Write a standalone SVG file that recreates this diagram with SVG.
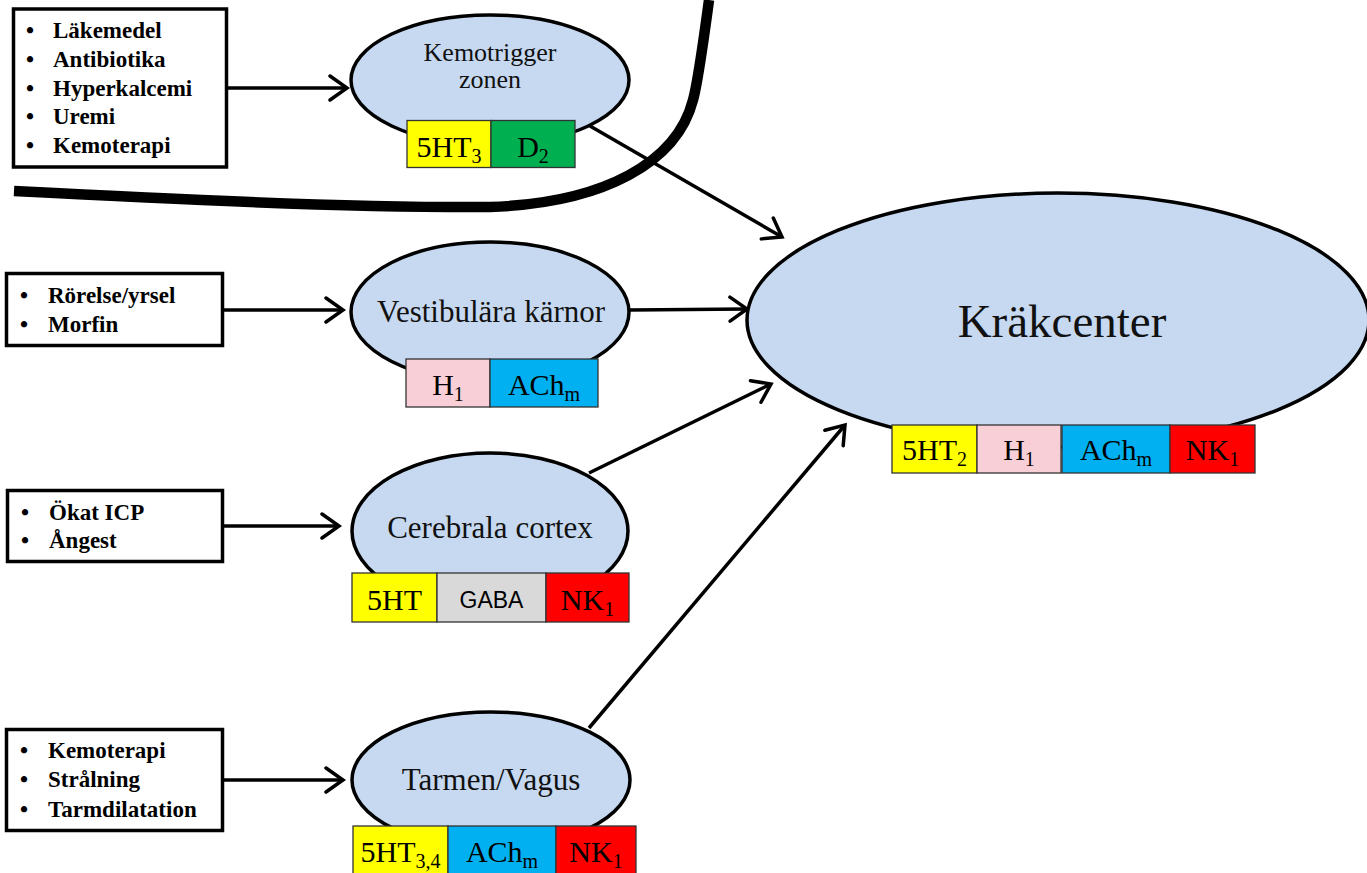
<svg xmlns="http://www.w3.org/2000/svg" width="1367" height="873" viewBox="0 0 1367 873">
  <style>
    .src { fill: #fff; stroke: #000; stroke-width: 3.5; }
    .src text { font-family: "Liberation Serif", "Times New Roman", serif; font-weight: bold; font-size: 23px; fill: #000; stroke: none; }
    .site { fill: #c6d9f1; stroke: #000; stroke-width: 3.5; }
    .lbl { font-family: "Liberation Serif", "Times New Roman", serif; font-size: 31px; fill: #111; text-anchor: middle; }
    .rc { stroke: #333; stroke-width: 1.3; }
    .rt { font-family: "Liberation Serif", "Times New Roman", serif; font-size: 30px; fill: #000; text-anchor: middle; }
    .sans { font-family: "Liberation Sans", Arial, sans-serif; font-size: 23px; }
    .y { fill: #ffff00; } .g { fill: #00b050; } .p { fill: #f8cfd6; } .c { fill: #00b0f0; } .r { fill: #ff0000; } .gr { fill: #d9d9d9; }
    .conn { fill: none; stroke: #000; stroke-width: 3.5; marker-end: url(#head); }
  </style>
  <defs>
    <marker id="head" viewBox="0 0 24 28" refX="20" refY="14" markerWidth="24" markerHeight="28" markerUnits="userSpaceOnUse" orient="auto">
      <path d="M3,2 L20,14 L3,26" fill="none" stroke="#000" stroke-width="3.5" stroke-linecap="round" stroke-linejoin="miter"/>
    </marker>
  </defs>

  <rect width="1367" height="873" fill="#fff"/>

  <!-- barrier line -->
  <g id="barrier">
    <path d="M14,191 C150,198 350,208 490,207 C605,203 677,162 693,100 C698,82 705,30 709,0" fill="none" stroke="#000" stroke-width="10.5"/>
  </g>

  <!-- connectors -->
  <g id="connectors">
    <path class="conn" d="M228,88 L347,88"/>
    <path class="conn" d="M224,310 L343,310"/>
    <path class="conn" d="M224,526 L339,526"/>
    <path class="conn" d="M224,780 L343,780"/>
    <path class="conn" d="M590,126 L782,237"/>
    <path class="conn" d="M630,310 L747,309"/>
    <path class="conn" d="M589,473 L771,384"/>
    <path class="conn" d="M589,728 L845,425"/>
  </g>

  <!-- cause boxes -->
  <g id="causes-ctz" class="src">
    <rect x="13.5" y="9" width="213" height="158"/>
    <text x="30" y="38" text-anchor="middle">•</text><text x="53" y="38">Läkemedel</text>
    <text x="30" y="67" text-anchor="middle">•</text><text x="53" y="67">Antibiotika</text>
    <text x="30" y="96" text-anchor="middle">•</text><text x="53" y="96">Hyperkalcemi</text>
    <text x="30" y="124" text-anchor="middle">•</text><text x="53" y="124">Uremi</text>
    <text x="30" y="153" text-anchor="middle">•</text><text x="53" y="153">Kemoterapi</text>
  </g>
  <g id="causes-vestibular" class="src">
    <rect x="6.5" y="273.5" width="216" height="72"/>
    <text x="24" y="303" text-anchor="middle">•</text><text x="48" y="303">Rörelse/yrsel</text>
    <text x="24" y="332" text-anchor="middle">•</text><text x="48" y="332">Morfin</text>
  </g>
  <g id="causes-cortex" class="src">
    <rect x="7.5" y="490.5" width="215" height="71"/>
    <text x="25" y="520" text-anchor="middle">•</text><text x="49" y="520">Ökat ICP</text>
    <text x="25" y="548" text-anchor="middle">•</text><text x="49" y="548">Ångest</text>
  </g>
  <g id="causes-gut" class="src">
    <rect x="6.5" y="729.5" width="216" height="101"/>
    <text x="24" y="758" text-anchor="middle">•</text><text x="48" y="758">Kemoterapi</text>
    <text x="24" y="787" text-anchor="middle">•</text><text x="48" y="787">Strålning</text>
    <text x="24" y="817" text-anchor="middle">•</text><text x="48" y="817">Tarmdilatation</text>
  </g>

  <!-- chemoreceptor trigger zone -->
  <g id="ctz">
    <ellipse class="site" cx="490" cy="80" rx="139" ry="65"/>
    <text class="lbl" x="490" y="61" style="font-size:26px">Kemotrigger</text>
    <text class="lbl" x="490" y="88" style="font-size:26px">zonen</text>
    <rect class="rc y" x="407" y="120.5" width="84" height="47"/>
    <rect class="rc g" x="491" y="120.5" width="84" height="47"/>
    <text class="rt" x="449" y="157">5HT<tspan font-size="20" dy="6">3</tspan></text>
    <text class="rt" x="533" y="157">D<tspan font-size="20" dy="6">2</tspan></text>
  </g>

  <!-- vestibular nuclei -->
  <g id="vestibular">
    <ellipse class="site" cx="490" cy="312" rx="139" ry="70"/>
    <text class="lbl" x="491" y="322">Vestibulära kärnor</text>
    <rect class="rc p" x="406" y="359" width="84" height="48"/>
    <rect class="rc c" x="490" y="359" width="108" height="48"/>
    <text class="rt" x="448" y="395">H<tspan font-size="20" dy="6">1</tspan></text>
    <text class="rt" x="544" y="395">ACh<tspan font-size="20" dy="6">m</tspan></text>
  </g>

  <!-- cerebral cortex -->
  <g id="cortex">
    <ellipse class="site" cx="490" cy="531" rx="138" ry="78"/>
    <text class="lbl" x="490" y="538">Cerebrala cortex</text>
    <rect class="rc y" x="352" y="573" width="85" height="49"/>
    <rect class="rc gr" x="437" y="573" width="109" height="49"/>
    <rect class="rc r" x="546" y="573" width="83" height="49"/>
    <text class="rt" x="394.5" y="610">5HT</text>
    <text class="rt sans" x="491.5" y="608">GABA</text>
    <text class="rt" x="587.5" y="610">NK<tspan font-size="20" dy="6">1</tspan></text>
  </g>

  <!-- gut / vagus -->
  <g id="gut">
    <ellipse class="site" cx="491" cy="780" rx="139" ry="68"/>
    <text class="lbl" x="491" y="790">Tarmen/Vagus</text>
    <rect class="rc y" x="353" y="826" width="95" height="48"/>
    <rect class="rc c" x="448" y="826" width="108" height="48"/>
    <rect class="rc r" x="556" y="826" width="80" height="48"/>
    <text class="rt" x="400.5" y="862">5HT<tspan font-size="20" dy="6">3,4</tspan></text>
    <text class="rt" x="502" y="862">ACh<tspan font-size="20" dy="6">m</tspan></text>
    <text class="rt" x="596" y="862">NK<tspan font-size="20" dy="6">1</tspan></text>
  </g>

  <!-- vomiting centre -->
  <g id="vomiting-center">
    <ellipse class="site" cx="1058" cy="320" rx="311" ry="127"/>
    <text class="lbl" x="1062" y="337" style="font-size:47px">Kräkcenter</text>
    <rect class="rc y" x="892" y="425" width="85" height="48"/>
    <rect class="rc p" x="977" y="425" width="84" height="48"/>
    <rect class="rc c" x="1062" y="425" width="108" height="48"/>
    <rect class="rc r" x="1170" y="425" width="85" height="48"/>
    <text class="rt" x="934.5" y="460">5HT<tspan font-size="20" dy="6">2</tspan></text>
    <text class="rt" x="1019" y="460">H<tspan font-size="20" dy="6">1</tspan></text>
    <text class="rt" x="1116" y="460">ACh<tspan font-size="20" dy="6">m</tspan></text>
    <text class="rt" x="1212.5" y="460">NK<tspan font-size="20" dy="6">1</tspan></text>
  </g>
</svg>
